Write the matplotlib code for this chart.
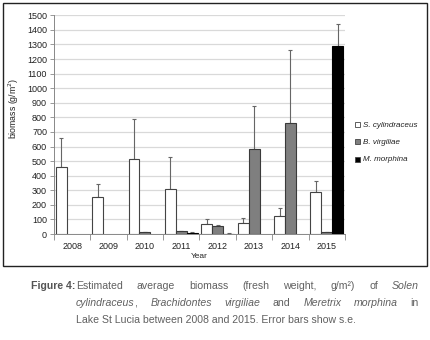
import matplotlib.pyplot as plt
import numpy as np
from matplotlib.lines import Line2D
from matplotlib.patches import Rectangle

plt.rcParams['font.family'] = ['Liberation Sans', 'DejaVu Sans']

years = ['2008', '2009', '2010', '2011', '2012', '2013', '2014', '2015']
species = ['S. cylindraceus', 'B. virgiliae', 'M. morphina']
# mean biomass (g/m2)
solen = [458, 255, 515, 312, 66, 78, 123, 285]
brach = [0, 0, 12, 18, 53, 580, 762, 12]
meret = [0, 0, 0, 9, 3, 0, 0, 1288]
# standard errors (upward only)
solen_se = [200, 85, 275, 213, 34, 29, 53, 78]
brach_se = [0, 0, 3, 3, 10, 295, 498, 3]
meret_se = [0, 0, 0, 2, 1, 0, 0, 150]

W, H = 431, 340
fig = plt.figure(figsize=(W / 100, H / 100), dpi=100)
ax = fig.add_axes([54 / W, 1 - 234 / H, (345 - 54) / W, (234 - 15.3) / H])

x = np.arange(len(years))
bw = 0.3
fills = ['white', '#7f7f7f', 'black']
edges = ['#444444', '#3a3a3a', 'black']
for i, (vals, errs) in enumerate([(solen, solen_se), (brach, brach_se), (meret, meret_se)]):
    pos = x + (i - 1) * bw
    vals = np.array(vals, dtype=float)
    errs = np.array(errs, dtype=float)
    show = vals > 0
    ax.bar(pos[show], vals[show], width=bw, color=fills[i], edgecolor=edges[i],
           linewidth=0.8, zorder=3)
    ax.errorbar(pos[show], vals[show], yerr=[np.zeros(show.sum()), errs[show]],
                fmt='none', ecolor='#666666', elinewidth=0.8, capsize=1.2,
                capthick=0.8, zorder=2)

ax.set_xlim(-0.5, len(years) - 0.5)
ax.set_ylim(0, 1500)
ax.set_yticks(np.arange(0, 1501, 100))
ax.yaxis.grid(True, color='#d9d9d9', linewidth=0.9, zorder=0)
ax.set_axisbelow(True)
ax.tick_params(axis='y', labelsize=6.5, length=3, width=0.6, color='#888888',
               pad=2, labelcolor='#222222')

ax.set_xticks(np.arange(-0.5, len(years), 1.0))
ax.set_xticklabels([])
ax.set_xticks(x, minor=True)
ax.set_xticklabels(years, minor=True)
ax.tick_params(axis='x', which='major', length=4, width=0.6, color='#888888')
ax.tick_params(axis='x', which='minor', length=0, labelsize=6.5, pad=6,
               labelcolor='#222222')

for s in ['top', 'right']:
    ax.spines[s].set_visible(False)
for s in ['left', 'bottom']:
    ax.spines[s].set_color('#888888')
    ax.spines[s].set_linewidth(0.7)

fig.text(199 / W, 1 - 257 / H, 'Year', fontsize=6, ha='center', va='center',
         color='#222222')
fig.text(14 / W, 1 - 108 / H, 'biomass (g/m$^2$)', fontsize=6.3, rotation=90,
         ha='center', va='center', color='#222222')

handles = [Line2D([], [], marker='s', linestyle='none', markersize=3.6,
                  markerfacecolor=fills[i], markeredgecolor='#444444',
                  markeredgewidth=0.6) for i in range(3)]
leg = fig.legend(handles, species, loc='upper left',
                 bbox_to_anchor=(351 / W, 1 - 118 / H), frameon=False,
                 fontsize=5.8, handlelength=0.6, handletextpad=0.5,
                 labelspacing=1.2, borderaxespad=0)
for t in leg.get_texts():
    t.set_style('italic')
    t.set_color('#222222')

fig.patches.append(Rectangle((3 / W, 1 - 266 / H), 424 / W, 263 / H,
                             transform=fig.transFigure, fill=False,
                             edgecolor='#222222', linewidth=1.0))

# caption
cap_color = '#606060'
fs = 7.6
fig.text(31 / W, 1 - 286 / H, 'Figure 4:', fontsize=fs, fontweight='bold',
         color='#555555', ha='left', va='center')

renderer = fig.canvas.get_renderer()


def place_line(words, y, x0, x1):
    # justified line; words are lists of (text, italic) runs
    widths = []
    for w in words:
        tot = 0
        for txt, it in w:
            t = fig.text(0, 0, txt, fontsize=fs, style='italic' if it else 'normal')
            tot += t.get_window_extent(renderer).width
            t.remove()
        widths.append(tot)
    gap = (x1 - x0 - sum(widths)) / (len(words) - 1)
    xp = x0
    for w, wd in zip(words, widths):
        xx = xp
        for txt, it in w:
            t = fig.text(xx / W, 1 - y / H, txt, fontsize=fs, color=cap_color,
                         style='italic' if it else 'normal', ha='left', va='center')
            xx += t.get_window_extent(renderer).width - (1 if it else 0)
        xp += wd + gap


def plain(s, it=False):
    return [[(w, it)] for w in s.split()]


line1 = plain('Estimated average biomass (fresh weight, g/m²) of') + plain('Solen', True)
line2 = ([[('cylindraceus', True), (',', False)]] + plain('Brachidontes virgiliae', True)
         + plain('and') + plain('Meretrix morphina', True) + plain('in'))

place_line(line1, 286, 76, 419)
place_line(line2, 303, 76, 419)
fig.text(76 / W, 1 - 320 / H, 'Lake St Lucia between 2008 and 2015. Error bars show s.e.',
         fontsize=fs, color=cap_color, ha='left', va='center')

fig.savefig('out.png', dpi=100)
